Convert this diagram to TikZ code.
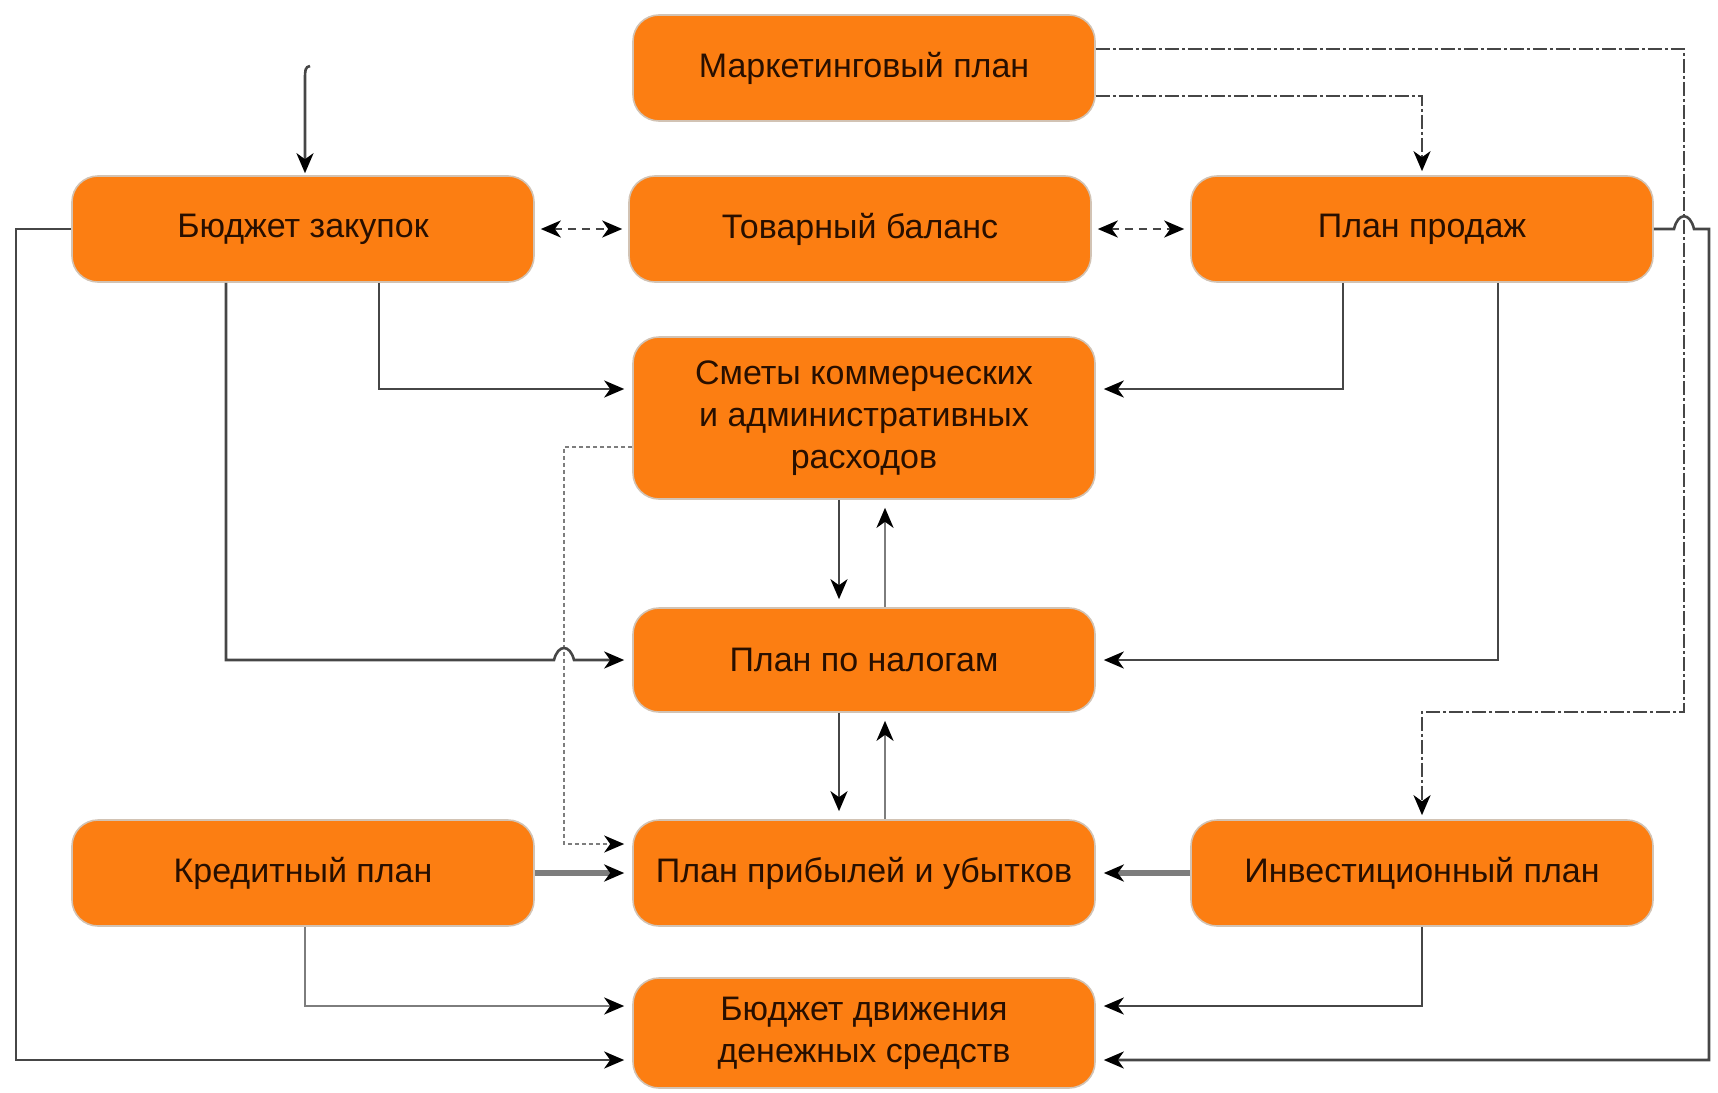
\documentclass[tikz,border=0pt]{standalone}
\usepackage{fontspec}
\setmainfont{Liberation Sans}
\usetikzlibrary{arrows.meta,calc}
\definecolor{boxfill}{RGB}{252,126,18}
\definecolor{boxedge}{RGB}{210,195,180}
\definecolor{txt}{RGB}{40,15,0}
\definecolor{ln}{RGB}{70,70,70}
\definecolor{lnl}{RGB}{125,125,125}
\begin{document}
\begin{tikzpicture}[x=0.5pt,y=-0.5pt,
  box/.style={rectangle, rounded corners=13pt, fill=boxfill, draw=boxedge, line width=0.8pt,
    minimum width=231pt, minimum height=53pt, align=center, text=txt,
    font=\fontsize{17}{21}\selectfont, inner sep=0pt},
  tip/.style={-{Stealth[length=10pt,width=8.5pt,inset=3pt,color=black]}},
  conn/.style={draw=ln, line width=1.3pt, tip, shorten >=4pt},
  connl/.style={draw=lnl, line width=1.3pt, tip, shorten >=4pt},
  bidash/.style={draw=ln, line width=1.3pt, dash pattern=on 4pt off 3pt,
    {Stealth[length=10pt,width=8.5pt,inset=3pt,color=black]}-{Stealth[length=10pt,width=8.5pt,inset=3pt,color=black]},
    shorten >=3pt, shorten <=3pt},
  dashdot/.style={draw=ln, line width=1.3pt, dash pattern=on 7pt off 1.5pt on 1.5pt off 1.5pt, tip, shorten >=2pt},
  dotl/.style={draw=lnl, line width=1pt, dash pattern=on 2pt off 1.5pt, tip, shorten >=4pt},
  thick/.style={draw=lnl, line width=2.8pt, tip, shorten >=4pt}
]
\useasboundingbox (0,0) rectangle (1718,1092);

% nodes
\node[box] (mp) at (864,68) {Маркетинговый план};
\node[box] (bz) at (303,229) {Бюджет закупок};
\node[box] (tb) at (860,229) {Товарный баланс};
\node[box] (pp) at (1422,229) {План продаж};
\node[box, minimum height=81pt] (sm) at (864,418) {Сметы коммерческих\\и административных\\расходов};
\node[box, minimum height=52pt] (pn) at (864,660) {План по налогам};
\node[box] (kp) at (303,873) {Кредитный план};
\node[box] (pu) at (864,873) {План прибылей и убытков};
\node[box] (ip) at (1422,873) {Инвестиционный план};
\node[box, minimum height=55pt] (bd) at (864,1033) {Бюджет движения\\денежных средств};

% incoming arrow at top left
\coordinate (topin) at (310,66);
\draw[conn, shorten >=1pt] (topin) .. controls (305,67) and (305,70) .. (305,80) -- (305,0 |- bz.north);

% horizontal bidirectional dashed
\draw[bidash] (bz.east) -- (tb.west);
\draw[bidash] (tb.east) -- (pp.west);

% marketing plan links
\draw[dashdot] (mp.east |- 0,96) -- (1422,96) -- (pp.north);
\draw[dashdot] (mp.east |- 0,49) -- (1684,49) -- (1684,712) -- (1422,712) -- (ip.north);

% right outer loop with hop
\draw[conn] (pp.east) -- (1674,229) .. controls (1678,212) and (1690,212) .. (1694,229)
  -- (1709,229) -- (1709,1060) -- (bd.east |- 0,1060);
% left outer loop
\draw[conn] (bz.west) -- (16,229) -- (16,1060) -- (bd.west |- 0,1060);

% from Бюджет закупок
\draw[conn] (379,0 |- bz.south) -- (379,389) -- (sm.west |- 0,389);
\draw[dotl] (sm.west |- 0,447) -- (564,447) -- (564,844) -- (pu.west |- 0,844);
\draw[conn] (226,0 |- bz.south) -- (226,660) -- (554,660) .. controls (558,644) and (570,644) .. (574,660) -- (pn.west);

% from План продаж
\draw[conn] (1343,0 |- pp.south) -- (1343,389) -- (sm.east |- 0,389);
\draw[conn] (1498,0 |- pp.south) -- (1498,660) -- (pn.east);

% vertical central links
\draw[conn] (839,0 |- sm.south) -- (839,0 |- pn.north);
\draw[connl] (885,0 |- pn.north) -- (885,0 |- sm.south);
\draw[conn] (839,0 |- pn.south) -- (839,0 |- pu.north);
\draw[connl] (885,0 |- pu.north) -- (885,0 |- pn.south);

% thick links to План прибылей
\draw[thick] (kp.east) -- (pu.west);
\draw[thick] (ip.west) -- (pu.east);

% to Бюджет движения
\draw[connl] (305,0 |- kp.south) -- (305,1006) -- (bd.west |- 0,1006);
\draw[conn] (1422,0 |- ip.south) -- (1422,1006) -- (bd.east |- 0,1006);
\end{tikzpicture}
\end{document}
